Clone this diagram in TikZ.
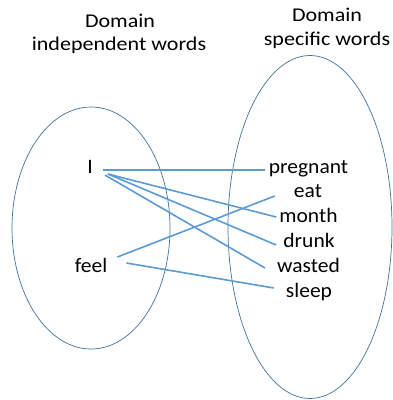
\documentclass[tikz,border=0pt]{standalone}
\usepackage{fontspec}
\setmainfont{Carlito}
\newfontfamily\wordfont{Carlito}[FakeStretch=1.05]
\newfontfamily\titlefont{Carlito}[FakeStretch=1.13]
\usetikzlibrary{calc}
\definecolor{ellcol}{HTML}{41719C}
\definecolor{lincol}{HTML}{5B9BD5}
\tikzset{
  word/.style={anchor=base,inner sep=0pt,text height=12pt,text depth=4pt,font=\wordfont\fontsize{20.5}{23}\selectfont},
  title/.style={anchor=base,inner sep=0pt,font=\titlefont\fontsize{19.5}{22}\selectfont},
  setell/.style={draw=ellcol,line width=0.7pt},
  link/.style={draw=lincol,line width=1.6pt}
}
\begin{document}
\begin{tikzpicture}[x=1pt,y=-1pt]
\useasboundingbox (0,0) rectangle (393,400);
\draw[setell] (91,228) ellipse [x radius=79, y radius=121];
\draw[setell] (310,227) ellipse [x radius=82, y radius=171.5];
\node[title] (t1a) at (120,27) {Domain};
\node[title] (t1b) at (119,50) {independent words};
\node[title] (t2a) at (327,21) {Domain};
\node[title] (t2b) at (327,45) {specific words};
\node[word] (I) at (90,173) {I};
\node[word] (feel) at (91,272) {feel};
\node[word] (preg) at (308.5,173) {pregnant};
\node[word] (eat) at (308,197) {eat};
\node[word] (month) at (308.5,222) {month};
\node[word] (drunk) at (309,247) {drunk};
\node[word] (wasted) at (308.5,272) {wasted};
\node[word] (sleep) at (309,297) {sleep};
\draw[link] ($(I.east)+(10,1)$) -- ($(preg.west)+(-4,1)$);
\draw[link] ($(I.east)+(15,5)$) -- ($(month.west)+(-3,-1)$);
\draw[link] ($(I.east)+(15,5)$) -- ($(drunk.west)+(-7,2)$);
\draw[link] ($(I.east)+(12,6)$) -- ($(wasted.west)+(-12,0)$);
\draw[link] ($(feel.east)+(10,-11)$) -- ($(eat.west)+(-19,3)$);
\draw[link] ($(feel.east)+(19,-5)$) -- ($(sleep.west)+(-12,-5)$);
\end{tikzpicture}
\end{document}
